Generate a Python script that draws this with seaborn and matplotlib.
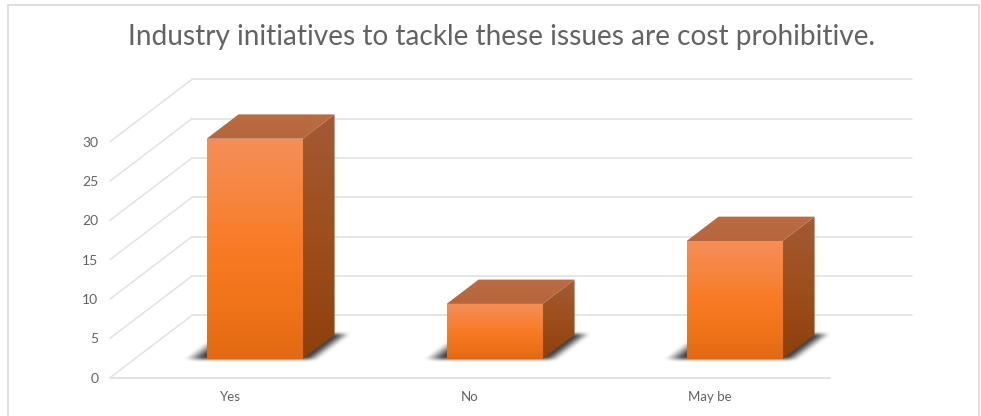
import numpy as np
import pandas as pd
import matplotlib
matplotlib.use("Agg")
import matplotlib.pyplot as plt
import seaborn as sns
from matplotlib.colors import LinearSegmentedColormap
from matplotlib.patches import Polygon, Rectangle
from matplotlib.transforms import Affine2D, IdentityTransform

# Survey responses
categories = ["Yes", "No", "May be"]
responses = [28, 7, 15]
value_ticks = [0, 5, 10, 15, 20, 25, 30]
title_text = "Industry initiatives to tackle these issues are cost prohibitive."

# Pseudo-3D geometry, in pixels
WIDTH, HEIGHT = 981, 416
FLOOR_DEPTH = (82.0, 62.4)
BAR_INSET = 0.30
BAR_DEPTH = 0.39
TEXT = "#636363"
GRID = "#E2E2E2"

sns.set_theme(style="white")
plt.rcParams["font.family"] = ["Lato", "DejaVu Sans"]

fig = plt.figure(figsize=(WIDTH / 100, HEIGHT / 100), dpi=100)
ax = fig.add_axes([110 / WIDTH, (HEIGHT - 377.7) / HEIGHT, 720 / WIDTH, 236 / HEIGHT])
ax.patch.set_visible(False)

data = pd.DataFrame({"answer": categories, "count": responses})
sns.barplot(data=data, x="answer", y="count", width=0.4, color="#F97B25",
            saturation=1, ax=ax, zorder=5)
ax.set_xlim(-0.5, 2.5)
ax.set_ylim(0, value_ticks[-1])
ax.set_autoscale_on(False)
ax.set_xlabel("")
ax.set_ylabel("")
ax.set_yticks(value_ticks)
ax.tick_params(axis="x", length=0, pad=9.5, labelsize=9.5, labelcolor=TEXT)
ax.tick_params(axis="y", length=0, pad=8.5, labelsize=10, labelcolor=TEXT)
ax.grid(False)
sns.despine(ax=ax, left=True, bottom=True)


def shifted(depth):
    """Data transform pushed back along the floor by a fraction of its depth."""
    return ax.transData + Affine2D().translate(FLOOR_DEPTH[0] * depth, FLOOR_DEPTH[1] * depth)


# Back wall, side wall and floor lines
for tick in value_ticks:
    ax.plot([-0.5, 2.5], [tick, tick], color=GRID, lw=1.2, transform=shifted(1.0),
            clip_on=False, zorder=1)
    x0, y0 = ax.transData.transform((-0.5, tick))
    ax.plot([x0, x0 + FLOOR_DEPTH[0]], [y0, y0 + FLOOR_DEPTH[1]], color=GRID, lw=1.1,
            transform=IdentityTransform(), clip_on=False, zorder=1)
ax.plot([-0.5, 2.5], [0, 0], color=GRID, lw=1.4, clip_on=False, zorder=1)


def shaded_polygon(corners, colors, zorder):
    """Fill a pixel-space polygon with a vertical colour ramp, top to bottom."""
    corners = np.asarray(corners)
    ramp = LinearSegmentedColormap.from_list("ramp", colors)
    image = ax.imshow(np.linspace(0, 1, 256)[:, None], cmap=ramp, aspect="auto",
                      extent=(corners[:, 0].min(), corners[:, 0].max(),
                              corners[:, 1].min(), corners[:, 1].max()),
                      transform=IdentityTransform(), interpolation="bilinear",
                      zorder=zorder)
    outline = Polygon(corners, closed=True, transform=IdentityTransform(),
                      facecolor="none", edgecolor="none")
    ax.add_patch(outline)
    outline.set_clip_on(False)
    image.set_clip_box(fig.bbox)
    image.set_clip_path(outline)


def soften(mask, sigma):
    """Separable gaussian blur of a 2-D array."""
    radius = int(3 * sigma)
    kernel = np.exp(-0.5 * (np.arange(-radius, radius + 1) / sigma) ** 2)
    kernel /= kernel.sum()
    mask = np.apply_along_axis(np.convolve, 0, mask, kernel, mode="same")
    return np.apply_along_axis(np.convolve, 1, mask, kernel, mode="same")


def floor_shadow(left, right, base, dx, dy):
    """Soft shadow cast on the floor around the footprint of a bar."""
    x_min, x_max = left - 40, right + dx + 40
    y_min, y_max = base - 14, base + dy + 14
    xs = np.arange(x_min, x_max + 1)
    ys = np.arange(y_max, y_min - 1, -1)
    px, py = np.meshgrid(xs, ys)
    slant = px - (py - base) * dx / dy
    mask = (np.clip((slant - (left - 22)) / 16, 0, 1)
            * np.clip((right + 16 - slant) / 12, 0, 1)
            * (py > base - 1.5) * (py < base + dy + 0.5))
    rgba = np.zeros(px.shape + (4,))
    rgba[..., :3] = 0.2
    rgba[..., 3] = soften(mask.astype(float), 1.6) * 0.95
    image = ax.imshow(rgba, aspect="auto", extent=(x_min, x_max, y_min, y_max),
                      transform=IdentityTransform(), interpolation="bilinear", zorder=2)
    image.set_clip_box(fig.bbox)


# Each bar is the seaborn rectangle moved onto its floor slot, plus top and side faces
front_shift = shifted(BAR_INSET)
dx, dy = FLOOR_DEPTH[0] * BAR_DEPTH, FLOOR_DEPTH[1] * BAR_DEPTH
for bar in ax.patches[:len(categories)]:
    (left, base), (right, top) = front_shift.transform(
        [(bar.get_x(), 0), (bar.get_x() + bar.get_width(), bar.get_height())])
    bar.set_visible(False)

    floor_shadow(left, right, base, dx, dy)
    shaded_polygon([(left, base), (right, base), (right, top), (left, top)],
                   ["#F58E58", "#F68640", "#F97A25", "#F07419", "#E26913"], 5)
    shaded_polygon([(right, base), (right + dx, base + dy), (right + dx, top + dy), (right, top)],
                   ["#A35B35", "#9D4F1C", "#8E400C"], 4)
    shaded_polygon([(left, top), (right, top), (right + dx, top + dy), (left + dx, top + dy)],
                   ["#BB6C42", "#B4663C"], 4)

ax.set_xlim(-0.5, 2.5)
ax.set_ylim(0, value_ticks[-1])

# Chart title and outer border
fig.text(501.5 / WIDTH, 1 - 37 / HEIGHT, title_text, ha="center", va="center",
         fontsize=20.2, color=TEXT)
fig.add_artist(Rectangle((8, -10), 971, HEIGHT + 10 - 5, transform=IdentityTransform(),
                         facecolor="none", edgecolor="#D9D9D9", lw=1.2))

fig.savefig("out.png", dpi=100, facecolor="white")
